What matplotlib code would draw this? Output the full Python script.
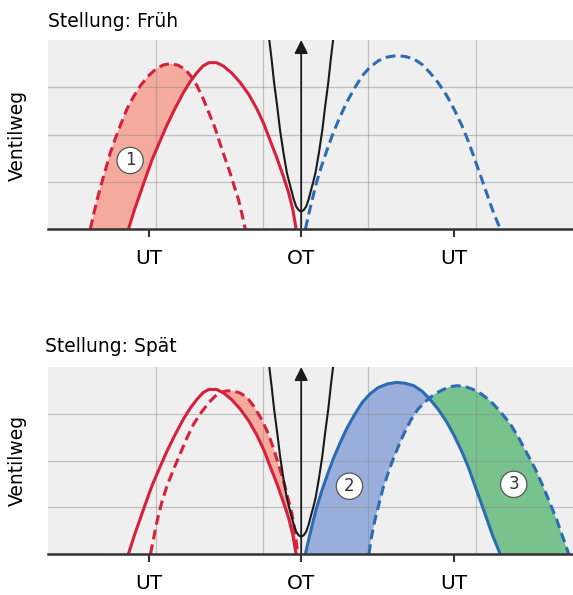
import numpy as np
import matplotlib
matplotlib.use('Agg')
import matplotlib.pyplot as plt

# crank angle in degrees (OT = 0, UT = -180 / 180), valve lift in grid units

# exhaust valve, reference position (solid red)
red_ref_x = [-204, -197, -190, -183, -176, -167, -159, -149, -139, -131, -123, -116, -109,
             -100, -92, -82, -72, -62, -52, -44, -37, -29, -21, -15, -10, -6]
red_ref_y = [0.0, 0.40, 0.76, 1.12, 1.47, 1.85, 2.18, 2.55, 2.89, 3.12, 3.31, 3.45, 3.52,
             3.52, 3.45, 3.30, 3.10, 2.85, 2.53, 2.22, 1.89, 1.52, 1.11, 0.78, 0.42, 0.0]

# exhaust valve, early position (top dashed red)
red_early_x = [-249, -245, -241, -236, -231, -226, -220, -213, -206, -198, -190, -181, -172,
               -163, -155, -146, -137, -130, -123, -116, -109, -102, -96, -90, -84, -79,
               -74, -70, -66]
red_early_y = [0.0, 0.32, 0.62, 0.95, 1.26, 1.58, 1.89, 2.22, 2.53, 2.80, 3.03, 3.23, 3.38,
               3.47, 3.50, 3.47, 3.38, 3.23, 3.03, 2.77, 2.46, 2.15, 1.82, 1.50, 1.19, 0.90,
               0.62, 0.32, 0.0]

# exhaust valve, late position (bottom dashed red)
red_late_x = [-178, -174, -170, -165, -159, -151, -143, -135, -127, -118, -109, -102, -96,
              -88, -80, -72, -64, -56, -48, -40, -33, -27, -21, -16, -11, -7, -4]
red_late_y = [0.0, 0.36, 0.72, 1.08, 1.43, 1.80, 2.14, 2.48, 2.78, 3.03, 3.24, 3.37, 3.45,
              3.49, 3.49, 3.44, 3.35, 3.16, 2.92, 2.62, 2.28, 1.93, 1.57, 1.22, 0.86, 0.45, 0.0]

# intake valve, reference position (top dashed / bottom solid blue)
blue_ref_x = [5, 9, 13, 18, 24, 31, 38, 46, 54, 63, 72, 81, 91, 102, 113, 123, 133, 143,
              152, 162, 172, 181, 190, 198, 205, 212, 219, 226, 235]
blue_ref_y = [0.0, 0.32, 0.62, 0.98, 1.33, 1.70, 2.04, 2.38, 2.69, 2.98, 3.24, 3.42, 3.56,
              3.64, 3.67, 3.65, 3.60, 3.48, 3.31, 3.09, 2.82, 2.52, 2.18, 1.83, 1.47, 1.12,
              0.76, 0.40, 0.0]

# intake valve, late position (bottom dashed blue)
blue_late_x = [80, 83, 87, 92, 97, 104, 111, 120, 129, 138, 148, 158, 168, 176, 184, 194,
               203, 213, 223, 235, 247, 257, 267, 277, 286, 294, 302, 309, 316]
blue_late_y = [0.0, 0.36, 0.72, 1.08, 1.43, 1.80, 2.14, 2.52, 2.85, 3.10, 3.28, 3.43, 3.52,
               3.58, 3.60, 3.58, 3.52, 3.42, 3.28, 3.05, 2.78, 2.48, 2.14, 1.80, 1.43, 1.08,
               0.72, 0.36, 0.0]

# piston path near OT (black)
piston_x = [-39, -35, -32, -28, -25, -21, -17, -14, -12, -9, -6, -3, 0,
            3, 6, 9, 12, 14, 17, 21, 25, 28, 32, 35, 39]
piston_y = [4.2, 3.6, 3.1, 2.55, 2.1, 1.62, 1.2, 0.98, 0.85, 0.64, 0.48, 0.40, 0.37,
            0.40, 0.48, 0.64, 0.85, 0.98, 1.2, 1.62, 2.1, 2.55, 3.1, 3.6, 4.2]

# crossing points of the curves
cross_1 = (-129, 3.22)
cross_red_late = (-98, 3.46)
cross_blue = (151, 3.29)

tick_pos = [-180, 0, 180]
tick_labels = ['UT', 'OT', 'UT']
labels_top = [('1', -202, 1.45)]
labels_bottom = [('2', 57, 1.45), ('3', 251, 1.49)]

RED = '#d6213c'
BLUE = '#2b6cb3'
SALMON = '#f4ab9d'
LBLUE = '#9aaedc'
GREEN = '#78c28e'
BG = '#efefef'
DASH = (0, (3.2, 1.7))

W, H = 573, 595
fig = plt.figure(figsize=(W / 100, H / 100), dpi=100)


def polygon(ax, xa, ya, cross, xb, yb, side, color):
    xa, ya, xb, yb = map(np.asarray, (xa, ya, xb, yb))
    if side == 'left':
        ma, mb = xa < cross[0], xb < cross[0]
        px = list(xa[ma]) + [cross[0]] + list(xb[mb][::-1])
        py = list(ya[ma]) + [cross[1]] + list(yb[mb][::-1])
    else:
        ma, mb = xa > cross[0], xb > cross[0]
        px = [cross[0]] + list(xa[ma]) + list(xb[mb][::-1])
        py = [cross[1]] + list(ya[ma]) + list(yb[mb][::-1])
    ax.fill(px, py, color=color, lw=0, zorder=1)


def setup(top_px, base_px):
    ax = fig.add_axes([48 / W, 1 - base_px / H, (W - 48) / W, (base_px - top_px) / H])
    ax.set_facecolor(BG)
    ax.set_xlim(-299, 321)
    ax.set_ylim(0, 4.0)
    for s in ['top', 'right', 'left']:
        ax.spines[s].set_visible(False)
    ax.spines['bottom'].set_color('#333333')
    ax.spines['bottom'].set_linewidth(1.8)
    ax.spines['bottom'].set_zorder(6)
    ax.set_yticks([])
    ax.set_xticks(tick_pos)
    ax.set_xticklabels(tick_labels, fontsize=14.5)
    ax.tick_params(axis='x', length=5.5, width=1.5, color='#333333', pad=9)
    for gx in [-172, -45, 79, 207]:
        ax.axvline(gx, color='#888888', lw=0.9, alpha=0.45, zorder=2)
    for gy in [1, 2, 3]:
        ax.axhline(gy, color='#888888', lw=0.9, alpha=0.45, zorder=2)
    # piston curve + arrow
    ax.plot(piston_x, piston_y, color='#1a1a1a', lw=1.5, zorder=4)
    ax.annotate('', xy=(0, 4.0), xytext=(0, 0),
                arrowprops=dict(arrowstyle='-|>', color='#1a1a1a', lw=1.3,
                                mutation_scale=20, shrinkA=0, shrinkB=0), zorder=5)
    return ax


def circ(ax, txt, x, y):
    ax.text(x, y, txt, fontsize=12, ha='center', va='center', color='#333333', zorder=7,
            bbox=dict(boxstyle='circle,pad=0.25', fc='white', ec='#555555', lw=0.9))


def curve(ax, xs, ys, color, dashed=False):
    ax.plot(xs, ys, color=color, lw=2.2, ls=DASH if dashed else '-',
            solid_joinstyle='round', dash_joinstyle='round', zorder=3)


# top panel: Stellung Früh
ax1 = setup(40, 229)
polygon(ax1, red_early_x, red_early_y, cross_1, red_ref_x, red_ref_y, 'left', SALMON)
curve(ax1, red_early_x, red_early_y, RED, dashed=True)
curve(ax1, red_ref_x, red_ref_y, RED)
curve(ax1, blue_ref_x, blue_ref_y, BLUE, dashed=True)
for t, x, y in labels_top:
    circ(ax1, t, x, y)

# bottom panel: Stellung Spät
ax2 = setup(367, 554)
polygon(ax2, red_late_x, red_late_y, cross_red_late, red_ref_x, red_ref_y, 'right', SALMON)
polygon(ax2, blue_ref_x, blue_ref_y, cross_blue, blue_late_x, blue_late_y, 'left', LBLUE)
polygon(ax2, blue_late_x, blue_late_y, cross_blue, blue_ref_x, blue_ref_y, 'right', GREEN)
curve(ax2, red_late_x, red_late_y, RED, dashed=True)
curve(ax2, red_ref_x, red_ref_y, RED)
curve(ax2, blue_late_x, blue_late_y, BLUE, dashed=True)
curve(ax2, blue_ref_x, blue_ref_y, BLUE)
for t, x, y in labels_bottom:
    circ(ax2, t, x, y)

fig.text(48 / W, 1 - 27 / H, 'Stellung: Früh', fontsize=13.5, va='baseline', ha='left')
fig.text(45 / W, 1 - 352 / H, 'Stellung: Spät', fontsize=13.5, va='baseline', ha='left')
fig.text(17 / W, 1 - 135 / H, 'Ventilweg', fontsize=13.5, rotation=90, va='center', ha='center')
fig.text(17 / W, 1 - 460 / H, 'Ventilweg', fontsize=13.5, rotation=90, va='center', ha='center')

fig.savefig('out.png', dpi=100)
